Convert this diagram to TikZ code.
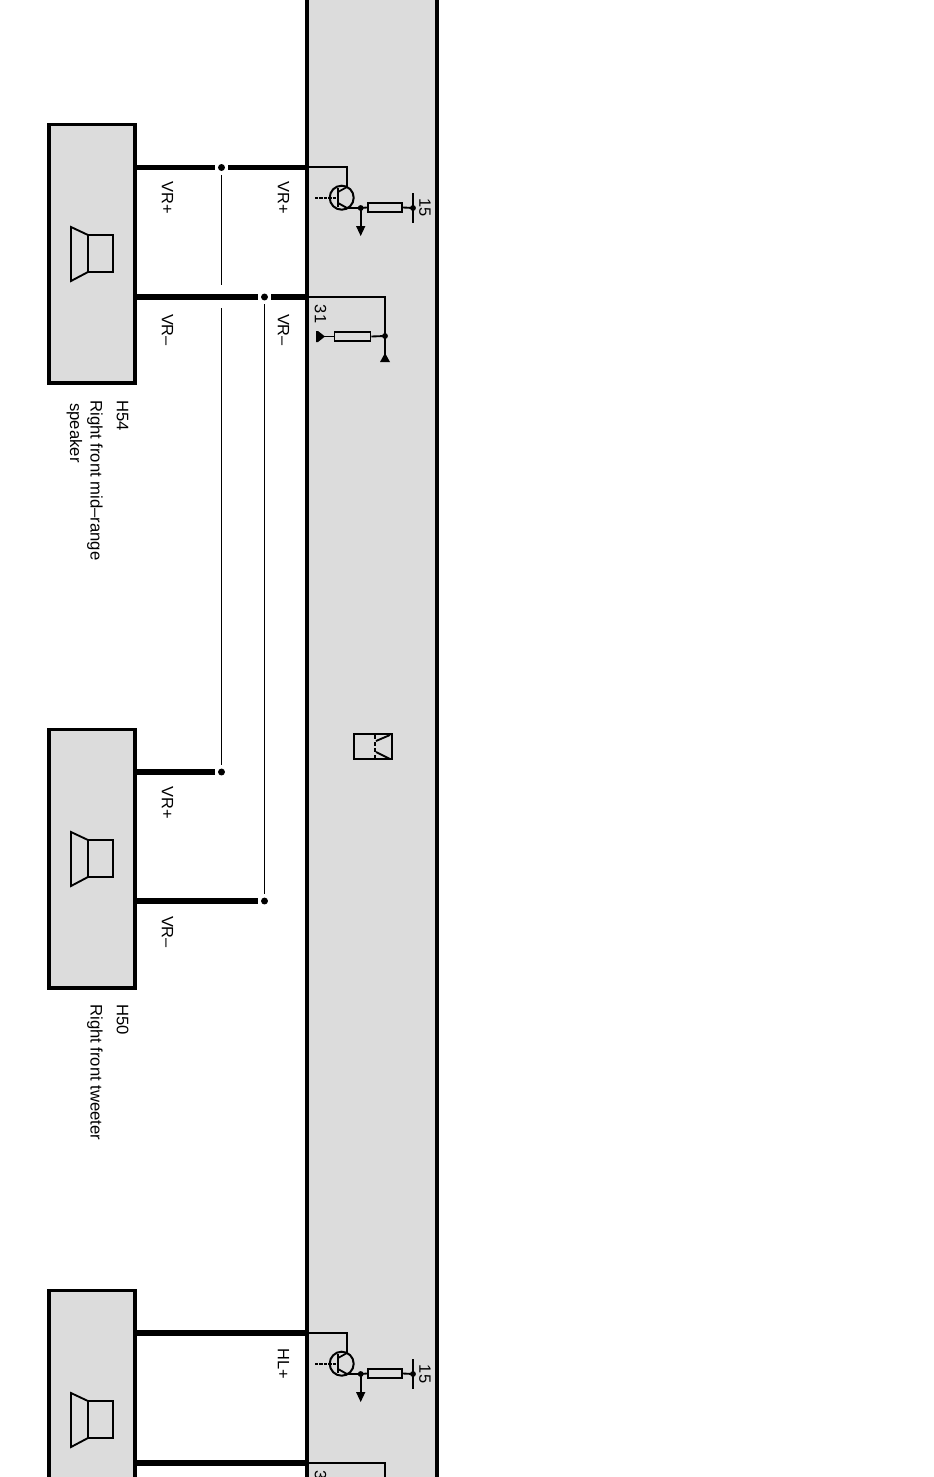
\documentclass[tikz,border=0pt]{standalone}
\usepackage{fontspec}
\setmainfont{Liberation Sans}
\definecolor{panel}{HTML}{DCDCDC}
\tikzset{
  boxline/.style={draw=black,line width=2.3pt,fill=panel},
  wire/.style={line width=4.3pt,line cap=butt},
  thin wire/.style={line width=1.3pt},
  sym/.style={line width=1.4pt,line join=miter},
  jdot/.style={circle,fill=black,inner sep=0pt,minimum size=5.2pt},
  smalldot/.style={circle,fill=black,inner sep=0pt,minimum size=4.4pt},
  lab/.style={rotate=-90,font=\fontsize{12.3}{13.5}\selectfont,inner sep=0pt},
  captext/.style={rotate=-90,anchor=west,font=\fontsize{12.5}{13.5}\selectfont,inner sep=0pt},
  px/.style={x=0.75pt,y=-0.75pt},
}
\newcommand{\spkicon}[1]{%
  \begin{scope}[yshift=-#1*0.75pt]
    \draw[sym,fill=panel] (71,227) -- (88,235) -- (88,272) -- (71,281) -- cycle;
    \draw[sym,fill=panel] (88,235) rectangle (113,272);
  \end{scope}}
\newcommand{\amp}[2]{%
  \begin{scope}[yshift=-#1*0.75pt]
    \coordinate (#2in) at (307,167);
    \coordinate (#2c) at (347,167);
    \coordinate (#2e) at (347,208);
    \node[smalldot] (#2j) at (360.7,208) {};
    \draw[thin wire] (#2in) -- (#2c) -- (347,187) -- (338,192);
    \draw[line width=1.5pt] (341.7,197.7) circle (12);
    \draw[line width=1.7pt] (338,188) -- (338,207);
    \draw[line width=1.5pt,dash pattern=on 2.5pt off 0.8pt] (315,198) -- (338,198);
    \draw[sym] (338,203) -- (#2e) -- (#2j.center);
    \coordinate (#2a) at (360.7,227);
    \draw[sym] (#2j.center) -- (#2a);
    \fill (356,226) -- (365.4,226) -- (360.7,236) -- cycle;
    \node[draw=black,line width=1.3pt,fill=panel,minimum width=26pt,minimum height=6.5pt,inner sep=0pt] (#2r) at (385,207.5) {};
    \node[smalldot] (#2k) at (413,208) {};
    \draw[sym] (#2j.center) -- (#2r.west);
    \draw[sym] (#2r.east) -- (#2k.center);
    \draw[line width=1.9pt] (413,193) -- (413,223);
    \node[lab] (#2t) at (425,208) {15};
  \end{scope}}
\newcommand{\gnd}[2]{%
  \begin{scope}[yshift=-#1*0.75pt]
    \coordinate (#2in) at (307,297);
    \coordinate (#2c) at (385,297);
    \node[smalldot] (#2j) at (385,336) {};
    \draw[thin wire] (#2in) -- (#2c) -- (#2j.center) -- (385,355);
    \fill (380,362) -- (390,362) -- (385,353) -- cycle;
    \node[draw=black,line width=1.3pt,fill=panel,minimum width=27pt,minimum height=6.5pt,inner sep=0pt] (#2r) at (352.5,336.5) {};
    \draw[sym] (#2j.center) -- (#2r.east);
    \coordinate (#2g) at (323,336.5);
    \draw[sym] (#2r.west) -- (#2g);
    \fill (316,331) -- (318,331) -- (325,336.5) -- (318,342) -- (316,342) -- cycle;
    \node[lab] (#2t) at (320.5,314) {31};
  \end{scope}}
\begin{document}
\begin{tikzpicture}[px]
\useasboundingbox (0,0) rectangle (934,1477);
\clip (0,0) rectangle (934,1477);
\fill[white] (0,0) rectangle (934,1477);

% control unit band
\node[boxline,minimum width=97.5pt,minimum height=1130pt,inner sep=0pt] (band) at (372,738.5) {};

% speaker boxes
\node[boxline,minimum width=64.5pt,minimum height=194.2pt,inner sep=0pt] (h54) at (92,253.5) {};
\node[boxline,minimum width=64.5pt,minimum height=194.2pt,inner sep=0pt] (h50) at (92,858.5) {};
\node[boxline,minimum width=64.5pt,minimum height=194.2pt,inner sep=0pt] (h3) at (92,1419.5) {};
\spkicon{0}
\spkicon{605}
\spkicon{1166}

% junctions
\node[jdot] (j1) at (221.5,167.5) {};
\node[jdot] (j2) at (264.5,297) {};
\node[jdot] (j3) at (221.5,772) {};
\node[jdot] (j4) at (264.5,901) {};

% thick wires
\draw[wire,shorten >=4.9pt] (135,167.5) -- (j1.center);
\draw[wire,shorten <=4.9pt] (j1.center) -- (307,167.5);
\draw[wire,shorten >=4.9pt] (135,297) -- (j2.center);
\draw[wire,shorten <=4.9pt] (j2.center) -- (307,297);
\draw[wire,shorten >=4.9pt] (135,772) -- (j3.center);
\draw[wire,shorten >=4.9pt] (135,901) -- (j4.center);
\draw[wire] (135,1333) -- (307,1333);
\draw[wire] (135,1463) -- (307,1463);

% thin links
\coordinate (gap1) at (221.5,285);
\coordinate (gap2) at (221.5,308);
\draw[thin wire,shorten <=5.5pt] (j1.center) -- (gap1);
\draw[thin wire,shorten >=5pt] (gap2) -- (j3.center);
\draw[thin wire,shorten <=5.5pt,shorten >=5pt] (j2.center) -- (j4.center);

% labels
\node[lab] (l1) at (167.5,198) {VR+};
\node[lab] (l2) at (283.5,198) {VR+};
\node[lab] (l3) at (167.5,330) {VR–};
\node[lab] (l4) at (283.5,330) {VR–};
\node[lab] (l5) at (167.5,803) {VR+};
\node[lab] (l6) at (167.5,932) {VR–};
\node[lab] (l7) at (283.5,1364) {HL+};

% captions
\node[captext] (c1) at (122.5,400) {H54};
\node[captext] (c2) at (95,400) {Right front mid–range};
\node[captext] (c3) at (74.5,403) {speaker};
\node[captext] (c4) at (122.5,1004) {H50};
\node[captext] (c5) at (95,1004) {Right front tweeter};

% output stages
\amp{0}{a}
\gnd{0}{b}
\amp{1166}{c}
\gnd{1166}{d}

% speaker symbol in the band
\node[draw=black,line width=1.6pt,fill=panel,minimum width=28.2pt,minimum height=19pt,inner sep=0pt] (icon) at (373,746.7) {};
\draw[sym,densely dashed] (375,735) -- (375,759);
\draw[sym] (376,741) -- (390,735);
\draw[sym] (376,752) -- (390,759);
\end{tikzpicture}
\end{document}
